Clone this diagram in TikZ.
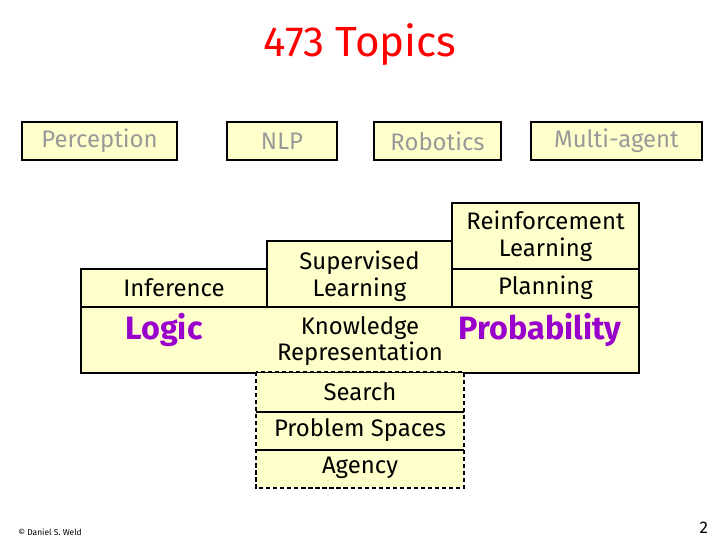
\documentclass[tikz,border=0pt]{standalone}
\usepackage{fontspec}
\setmainfont{Fira Sans}
\begin{document}
\begin{tikzpicture}[x=0.025cm,y=-0.025cm,
  box/.style={draw=black,line width=1.6pt,fill=boxfill,inner sep=0pt,align=center,font=\fontsize{17}{19}\selectfont},
  topbox/.style={box,text=gray!80,minimum height=0.95cm},
  big/.style={text=purp,font=\fontsize{23}{26}\selectfont\bfseries},
  plain/.style={align=center,font=\fontsize{17}{19}\selectfont}]
\definecolor{boxfill}{HTML}{FFFFCC}
\definecolor{purp}{HTML}{9900CC}
\useasboundingbox (0,0) rectangle (720,540);
\node[text=red,font=\fontsize{30}{32}\selectfont] (title) at (360,45) {473 Topics};
\node[topbox,minimum width=3.875cm] (perc) at (99.5,141) {Perception};
\node[topbox,minimum width=2.75cm] (nlp) at (282,141) {NLP};
\node[topbox,minimum width=3.175cm] (rob) at (437.5,141) {Robotics};
\node[topbox,minimum width=4.275cm] (multi) at (616.5,141) {Multi-agent};
\node[box,minimum width=4.65cm,minimum height=0.95cm] (inf) at (174,288) {Inference};
\node[box,minimum width=4.625cm,minimum height=1.65cm,text depth=0pt] (sup) at (359.5,274) {Supervised\\Learning};
\node[box,minimum width=4.675cm,minimum height=1.65cm] (rl) at (545.5,236) {Reinforcement\\Learning};
\node[box,minimum width=4.675cm,minimum height=0.95cm] (plan) at (545.5,288) {Planning};
\node[box,minimum width=13.95cm,minimum height=1.65cm] (kr) at (360,340) {};
\node[big] (logic) at (164,330) {Logic};
\node[plain] (know) at (360,341) {Knowledge\\Representation};
\node[big] (prob) at (540,330) {Probability};
\node[box,draw=none,minimum width=5.15cm,minimum height=0.95cm] (search) at (360,392) {Search};
\node[box,draw=none,minimum width=5.15cm,minimum height=0.95cm] (ps) at (360,430) {Problem Spaces};
\node[box,draw=none,minimum width=5.15cm,minimum height=0.95cm] (ag) at (360,468) {Agency};
\draw[line width=1.6pt] (search.south west) -- (search.south east);
\draw[line width=1.6pt] (ps.south west) -- (ps.south east);
\draw[line width=1.6pt,densely dashed] (search.north west) rectangle (ag.south east);
\node[font=\fontsize{6}{7}\selectfont] (cr) at (50,532) {© Daniel S. Weld};
\node[font=\fontsize{12}{14}\selectfont,anchor=east] (pg) at (713,528) {2};
\end{tikzpicture}
\end{document}
